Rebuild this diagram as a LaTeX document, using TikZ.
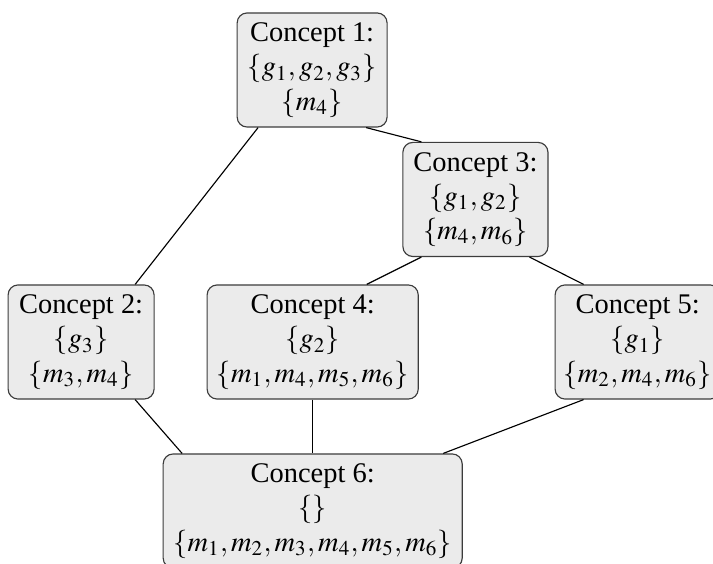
\documentclass[tikz,border=0pt]{standalone}
\usepackage{mathptmx}
\usepackage{fontspec}
\setmainfont{Liberation Serif}
\usepackage{tikz}
\definecolor{boxfill}{RGB}{235, 235, 235}
\definecolor{boxline}{RGB}{60, 60, 60}
\def\height{40.1pt}
\def\port{19pt}
\def\wideport{45.9pt}
\tikzset{concept/.style={draw=boxline,fill=boxfill,rounded corners=3.5pt,minimum height=\height,align=center,inner sep=0pt,line width=0.4pt}}
\newcommand{\conceptnode}[5]{\node[concept,minimum width=#4] (#3) at (#1,#2) {#5};}

\begin{document}
\begin{tikzpicture}
				\useasboundingbox (0,0) rectangle (250.6pt,-198.2pt);
				\clip (0,0) rectangle (250.6pt,-198.2pt);

				\conceptnode{109.7pt}{-24.6pt}{C1}{52.7pt}{Concept 1:\\ $\{g_1,g_2,g_3\}$\\ $\{m_4\}$}
				\conceptnode{167.1pt}{-70.1pt}{C3}{51pt}{Concept 3:\\ $\{g_1,g_2\}$\\ $\{m_4,m_6\}$}
				\conceptnode{28.5pt}{-120.2pt}{C2}{51.3pt}{Concept 2:\\ $\{g_3\}$\\ $\{m_3,m_4\}$}
				\conceptnode{109.9pt}{-120.2pt}{C4}{74.2pt}{Concept 4:\\ $\{g_2\}$\\ $\{m_1,m_4,m_5,m_6\}$}
				\conceptnode{224.1pt}{-120.2pt}{C5}{58pt}{Concept 5:\\ $\{g_1\}$\\ $\{m_2,m_4,m_6\}$}
				\conceptnode{109.9pt}{-179.6pt}{C6}{105.1pt}{Concept 6:\\ $\{\}$\\ $\{m_1,m_2,m_3,m_4,m_5,m_6\}$}

				\draw ([xshift=-\port]C1.south) -- ([xshift=\port]C2.north);
				\draw ([xshift=\port]C1.south) -- ([xshift=-\port]C3.north);
				\draw ([xshift=-\port]C3.south) -- ([xshift=\port]C4.north);
				\draw ([xshift=\port]C3.south) -- ([xshift=-\port]C5.north);
				\draw ([xshift=\port]C2.south) -- ([xshift=-\wideport]C6.north);
				\draw (C4.south) -- (C6.north);
				\draw ([xshift=-\port]C5.south) -- ([xshift=\wideport]C6.north);
\end{tikzpicture}
\end{document}
